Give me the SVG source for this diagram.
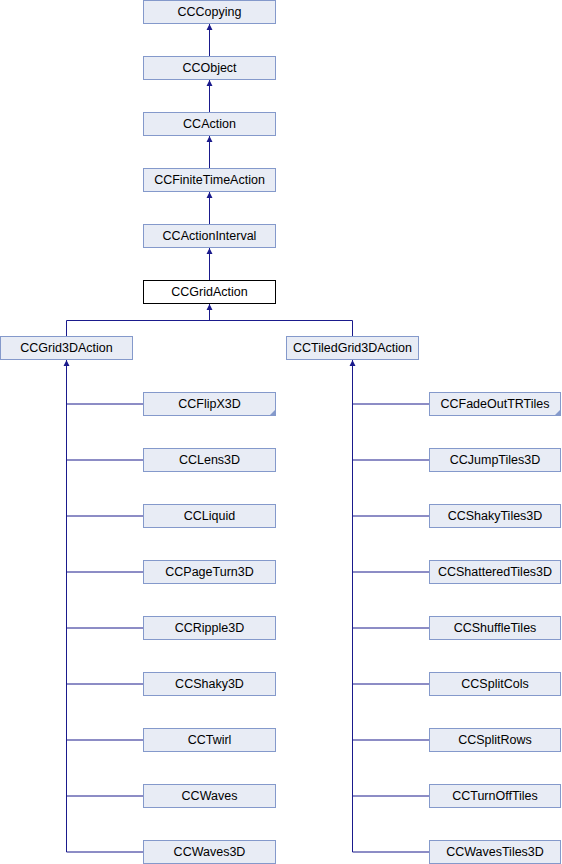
<svg xmlns="http://www.w3.org/2000/svg" width="562" height="864" viewBox="0 0 562 864">
<defs>
<style>
.n rect{fill:#e8ecf5;stroke:#8499cb;stroke-width:1}
.n.cur rect{fill:#ffffff;stroke:#000000}
.n text{font-family:"Liberation Sans",Arial,sans-serif;font-size:12.5px;fill:#000;text-anchor:middle}
.fold{fill:#8499cb}
.e{stroke:#1a1a8c;stroke-width:1;fill:none}
.ah{fill:#1a1a8c}
</style>
</defs>
<rect width="562" height="864" fill="#fff"/>
<g id="edges">
<path class="e" d="M209.5,23.5V56.5M209.5,79.5V112.5M209.5,135.5V168.5M209.5,191.5V224.5M209.5,247.5V280.5"/>
<path class="e" d="M209.5,303.5V320.5M66.5,320.5H352.5M66.5,320.5V336.5M352.5,320.5V336.5"/>
<path class="e" d="M66.5,359.5V852M66.5,404H143.5M66.5,460H143.5M66.5,516H143.5M66.5,572H143.5M66.5,628H143.5M66.5,684H143.5M66.5,740H143.5M66.5,796H143.5M66.5,852H143.5"/>
<path class="e" d="M352.5,359.5V852M352.5,404H429.5M352.5,460H429.5M352.5,516H429.5M352.5,572H429.5M352.5,628H429.5M352.5,684H429.5M352.5,740H429.5M352.5,796H429.5M352.5,852H429.5"/>
<path class="ah" d="M209.5,24l3,6h-6zM209.5,80l3,6h-6zM209.5,136l3,6h-6zM209.5,192l3,6h-6zM209.5,248l3,6h-6zM209.5,304l3,6h-6zM66.5,360l3,6h-6zM352.5,360l3,6h-6z"/>
</g>
<g id="CCCopying" class="n"><rect x="143.5" y="0.5" width="132" height="23"/><text x="209.5" y="16">CCCopying</text></g>
<g id="CCObject" class="n"><rect x="143.5" y="56.5" width="132" height="23"/><text x="209.5" y="72">CCObject</text></g>
<g id="CCAction" class="n"><rect x="143.5" y="112.5" width="132" height="23"/><text x="209.5" y="128">CCAction</text></g>
<g id="CCFiniteTimeAction" class="n"><rect x="143.5" y="168.5" width="132" height="23"/><text x="209.5" y="184">CCFiniteTimeAction</text></g>
<g id="CCActionInterval" class="n"><rect x="143.5" y="224.5" width="132" height="23"/><text x="209.5" y="240">CCActionInterval</text></g>
<g id="CCGridAction" class="n cur"><rect x="143.5" y="280.5" width="132" height="23"/><text x="209.5" y="296">CCGridAction</text></g>
<g id="CCGrid3DAction" class="n"><rect x="0.5" y="336.5" width="132" height="23"/><text x="66.5" y="352">CCGrid3DAction</text></g>
<g id="CCTiledGrid3DAction" class="n"><rect x="286.5" y="336.5" width="132" height="23"/><text x="352.5" y="352">CCTiledGrid3DAction</text></g>
<g id="CCFlipX3D" class="n"><rect x="143.5" y="392.5" width="132" height="23"/><text x="209.5" y="408">CCFlipX3D</text><path class="fold" d="M276,409V416H269z"/></g>
<g id="CCLens3D" class="n"><rect x="143.5" y="448.5" width="132" height="23"/><text x="209.5" y="464">CCLens3D</text></g>
<g id="CCLiquid" class="n"><rect x="143.5" y="504.5" width="132" height="23"/><text x="209.5" y="520">CCLiquid</text></g>
<g id="CCPageTurn3D" class="n"><rect x="143.5" y="560.5" width="132" height="23"/><text x="209.5" y="576">CCPageTurn3D</text></g>
<g id="CCRipple3D" class="n"><rect x="143.5" y="616.5" width="132" height="23"/><text x="209.5" y="632">CCRipple3D</text></g>
<g id="CCShaky3D" class="n"><rect x="143.5" y="672.5" width="132" height="23"/><text x="209.5" y="688">CCShaky3D</text></g>
<g id="CCTwirl" class="n"><rect x="143.5" y="728.5" width="132" height="23"/><text x="209.5" y="744">CCTwirl</text></g>
<g id="CCWaves" class="n"><rect x="143.5" y="784.5" width="132" height="23"/><text x="209.5" y="800">CCWaves</text></g>
<g id="CCWaves3D" class="n"><rect x="143.5" y="840.5" width="132" height="23"/><text x="209.5" y="856">CCWaves3D</text></g>
<g id="CCFadeOutTRTiles" class="n"><rect x="429.5" y="392.5" width="131" height="23"/><text x="495" y="408">CCFadeOutTRTiles</text><path class="fold" d="M561,409V416H554z"/></g>
<g id="CCJumpTiles3D" class="n"><rect x="429.5" y="448.5" width="131" height="23"/><text x="495" y="464">CCJumpTiles3D</text></g>
<g id="CCShakyTiles3D" class="n"><rect x="429.5" y="504.5" width="131" height="23"/><text x="495" y="520">CCShakyTiles3D</text></g>
<g id="CCShatteredTiles3D" class="n"><rect x="429.5" y="560.5" width="131" height="23"/><text x="495" y="576">CCShatteredTiles3D</text></g>
<g id="CCShuffleTiles" class="n"><rect x="429.5" y="616.5" width="131" height="23"/><text x="495" y="632">CCShuffleTiles</text></g>
<g id="CCSplitCols" class="n"><rect x="429.5" y="672.5" width="131" height="23"/><text x="495" y="688">CCSplitCols</text></g>
<g id="CCSplitRows" class="n"><rect x="429.5" y="728.5" width="131" height="23"/><text x="495" y="744">CCSplitRows</text></g>
<g id="CCTurnOffTiles" class="n"><rect x="429.5" y="784.5" width="131" height="23"/><text x="495" y="800">CCTurnOffTiles</text></g>
<g id="CCWavesTiles3D" class="n"><rect x="429.5" y="840.5" width="131" height="23"/><text x="495" y="856">CCWavesTiles3D</text></g>
</svg>
